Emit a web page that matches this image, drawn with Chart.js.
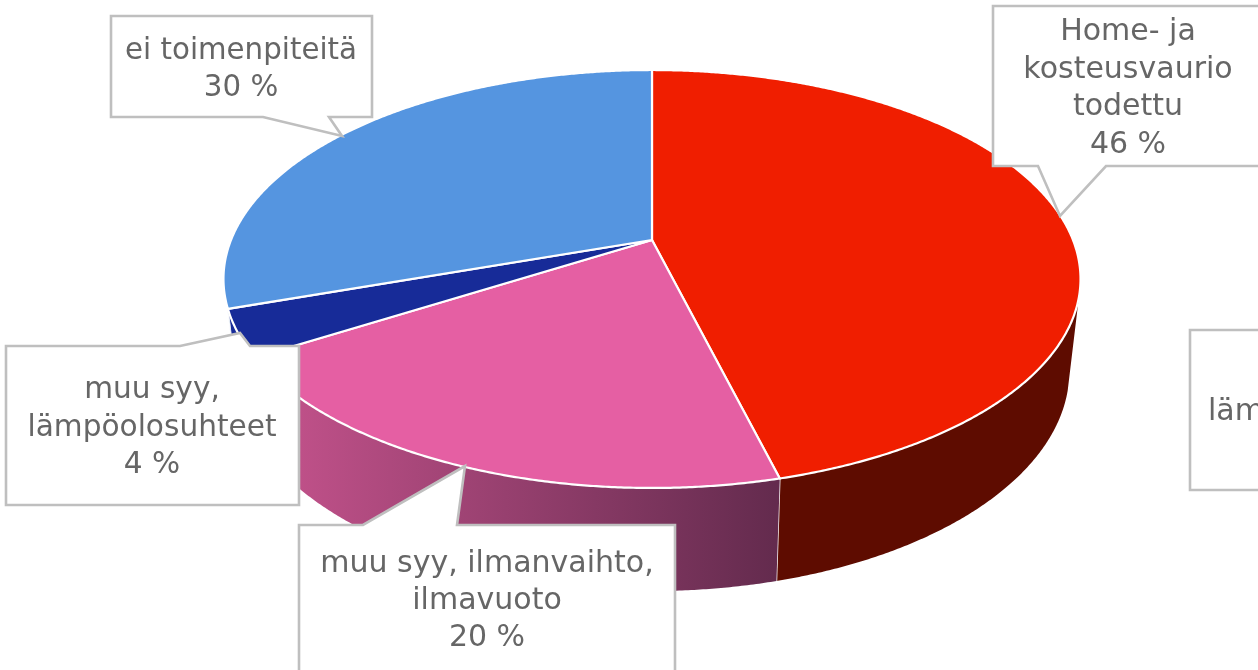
<!DOCTYPE html>
<html><head><meta charset="utf-8">
<style>html,body{margin:0;padding:0;background:#fff;overflow:hidden}canvas{display:block}</style>
<script src="https://cdn.jsdelivr.net/npm/chart.js@4"></script>
</head><body><canvas id="c" width="1258" height="670"></canvas>
<script>
const categories = ["Home- ja kosteusvaurio todettu","muu syy, ilmanvaihto, ilmavuoto","muu syy, lämpöolosuhteet","läm","ei toimenpiteitä"];
const values = [46,20.2,3.6,0,30.2];
const topColors = ["#F01E00","#E55FA3","#172B98","#888888","#5595E0"];
const wallColors = ["#5E0C00",null,"#172B98","#888888","#3A6AA8"];

// Projection of the pie disc (perspective tilt)
const P = -0.1866, CX = 652;
const topRim = {A:421,B:201.7,Y:240};
const botRim = {A:410,B:212.3,Y:330};
const WALL_FROM = 105.6*Math.PI/180 - Math.PI/2, WALL_TO = 252*Math.PI/180 - Math.PI/2;
function proj(r,a){const u=Math.cos(a),v=Math.sin(a),d=1+P*v;return [CX+r.A*u/d,r.Y+r.B*v/d];}
function rimPts(r,a0,a1){const n=Math.max(2,Math.ceil(Math.abs(a1-a0)/0.006)),o=[];for(let i=0;i<=n;i++)o.push(proj(r,a0+(a1-a0)*i/n));return o;}

// Callouts: text lines, box, pointer
const callouts = [
 {lines:["ei toimenpiteitä","30 %"],size:29.3,x:111,y:16,r:372,b:117,cx:241,ly:[51,88],side:"b",p:[[263,117],[342,136],[329,117]]},
 {lines:["Home- ja","kosteusvaurio","todettu","46 %"],size:30,x:993,y:6,r:1264,b:166,cx:1128,ly:[32,70,107,145],side:"b",p:[[1038,166],[1060,216],[1106,166]]},
 {lines:["muu syy,","lämpöolosuhteet","4 %"],size:29.6,x:6,y:346,r:299,b:505,cx:152,ly:[390,428,465],side:"t",p:[[250,346],[240,333],[180,346]]},
 {lines:["muu syy, ilmanvaihto,","ilmavuoto","20 %"],size:30,x:299,y:525,r:675,b:700,cx:487,ly:[564,601,638],side:"t",p:[[457,525],[465,466],[363,525]]},
 {lines:["läm"],size:30,x:1190,y:330,r:1300,b:490,tx:1208,ly:[412],side:"n",p:[]}
];

const pie3d = {
 id:"pie3d",
 beforeDatasetDraw(chart){
  const ctx=chart.ctx, arcs=chart.getDatasetMeta(0).data;
  ctx.save();ctx.lineJoin="round";
  // walls
  arcs.forEach((el,i)=>{
   if(values[i]===0)return;
   const a0=Math.max(el.startAngle,WALL_FROM),a1=Math.min(el.endAngle,WALL_TO);
   if(a1<=a0)return;
   const pts=rimPts(topRim,a0,a1).concat(rimPts(botRim,a1,a0));
   ctx.beginPath();pts.forEach((p,k)=>k?ctx.lineTo(p[0],p[1]):ctx.moveTo(p[0],p[1]));ctx.closePath();
   if(wallColors[i]) ctx.fillStyle=wallColors[i];
   else{const g=ctx.createLinearGradient(300,0,775,0);g.addColorStop(0,"#BE5088");g.addColorStop(1,"#642B4E");ctx.fillStyle=g;}
   ctx.fill();
   ctx.strokeStyle="rgba(255,255,255,0.95)";ctx.lineWidth=1.5;
   ctx.beginPath();let s=proj(topRim,a1),e=proj(botRim,a1);ctx.moveTo(s[0],s[1]);ctx.lineTo(e[0],e[1]);ctx.stroke();
  });
  // top faces
  arcs.forEach((el,i)=>{
   if(values[i]===0)return;
   const pts=rimPts(topRim,el.startAngle,el.endAngle);
   ctx.beginPath();ctx.moveTo(CX,topRim.Y);pts.forEach(p=>ctx.lineTo(p[0],p[1]));ctx.closePath();
   ctx.fillStyle=topColors[i];ctx.fill();
   ctx.strokeStyle="#FFFFFF";ctx.lineWidth=2.2;ctx.stroke();
  });
  ctx.restore();
  return false;
 },
 afterDraw(chart){
  const ctx=chart.ctx;ctx.save();
  callouts.forEach(c=>{
   ctx.beginPath();
   ctx.moveTo(c.x,c.y);
   if(c.side==="t") [...c.p].reverse().forEach(p=>ctx.lineTo(p[0],p[1]));
   ctx.lineTo(c.r,c.y);ctx.lineTo(c.r,c.b);
   if(c.side==="b") [...c.p].reverse().forEach(p=>ctx.lineTo(p[0],p[1]));
   ctx.lineTo(c.x,c.b);ctx.closePath();
   ctx.fillStyle="#FFFFFF";ctx.fill();
   ctx.strokeStyle="#BFBFBF";ctx.lineWidth=2.6;ctx.stroke();
   ctx.fillStyle="#666666";ctx.font=c.size+'px "DejaVu Sans"';ctx.textBaseline="middle";
   ctx.textAlign=c.tx?"left":"center";
   c.lines.forEach((t,i)=>ctx.fillText(t,c.tx||c.cx,c.ly[i]));
  });
  ctx.restore();
 }
};

new Chart(document.getElementById("c"),{
 type:"pie",
 data:{labels:categories,datasets:[{data:values,backgroundColor:topColors,borderColor:"#fff"}]},
 options:{responsive:false,animation:false,plugins:{legend:{display:false},tooltip:{enabled:false}}},
 plugins:[pie3d]
});
</script></body></html>
